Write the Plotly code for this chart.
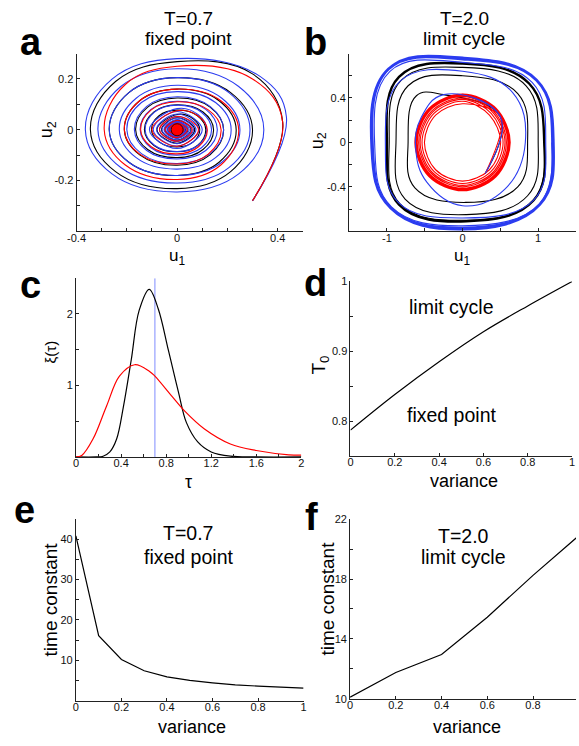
import plotly.graph_objects as go

W, H = 579, 746

# ---------------- data ----------------
# Panel a (T=0.7, fixed point): trajectories in the (u1, u2) plane
a_black_x = [0.30, 0.42, 0.30,
             0, -.245, -.345, -.245, 0, .213, .30, .213,
             0, -.192, -.27, -.192, 0, .167, .235, .167,
             0, -.149, -.21, -.149, 0, .131, .185, .131,
             0, -.117, -.165, -.117, 0, .103, .145, .103,
             0, -.092, -.13, -.092, 0, .081, .114, .081,
             0, -.072, -.102, -.072, 0, .064, .09, .064,
             0, -.08, 0, .07,
             0, -.062, 0, .055,
             0, -.049, 0, .043,
             0, -.038, 0, .034,
             0, -.03, 0, .026,
             0, -.023, 0, .02, 0]
a_black_y = [-0.28, 0.03, 0.22,
             .268, .19, 0, -.165, -.232, -.165, 0, .146,
             .205, .146, 0, -.128, -.18, -.128, 0, .114,
             .16, .114, 0, -.099, -.14, -.099, 0, .089,
             .125, .089, 0, -.078, -.11, -.078, 0, .07,
             .098, .07, 0, -.062, -.087, -.062, 0, .055,
             .077, .055, 0, -.048, -.068, -.048, 0, .043,
             .06, 0, -.053, 0,
             .047, 0, -.041, 0,
             .037, 0, -.032, 0,
             .029, 0, -.025, 0,
             .022, 0, -.02, 0,
             .017, 0, -.015, 0, 0.012]
a_blue_x = [0.30, 0.435, 0.33,
            0, -.259, -.365, -.259, 0, .245, .345, .245,
            0, -.224, -.315, -.224, 0, .206, .29, .206,
            0, -.192, -.27, -.192, 0, .178, .25, .178,
            0, -.163, -.23, -.163, 0, .153, .215, .153,
            0, -.142, -.2, -.142, 0, .131, .185, .131,
            0, -.121, -.17, -.121, 0, .114, .16, .114,
            0, -.104, -.147, -.104, 0, .097, .137, .097,
            0, -.09, -.127, -.09, 0, .084, .118, .084,
            0, -.11, 0, .1,
            0, -.095, 0, .087,
            0, -.082, 0, .075,
            0, -.07, 0, .065,
            0, -.06, 0, .056,
            0, -.052, 0, .048,
            0, -.045, 0, .041,
            0, -.039, 0, .036,
            0, -.033, 0, .03,
            0, -.028, 0, .025, 0]
a_blue_y = [-0.28, 0.05, 0.21,
            .28, .199, 0, -.174, -.245, -.174, 0, .17,
            .24, .17, 0, -.149, -.21, -.149, 0, .146,
            .205, .146, 0, -.128, -.18, -.128, 0, .124,
            .175, .124, 0, -.11, -.155, -.11, 0, .107,
            .15, .107, 0, -.094, -.133, -.094, 0, .092,
            .13, .092, 0, -.082, -.115, -.082, 0, .08,
            .112, .08, 0, -.071, -.1, -.071, 0, .069,
            .097, .069, 0, -.061, -.086, -.061, 0, .059,
            .083, 0, -.074, 0,
            .072, 0, -.064, 0,
            .062, 0, -.055, 0,
            .053, 0, -.047, 0,
            .046, 0, -.041, 0,
            .04, 0, -.035, 0,
            .034, 0, -.03, 0,
            .03, 0, -.026, 0,
            .026, 0, -.022, 0,
            .022, 0, -.019, 0, 0.016]
a_red_x = [0.30, 0.42, 0.30,
           0, -.206, -.29, -.206, 0, .174, .245, .174,
           0, -.149, -.21, -.149, 0, .124, .175, .124,
           0, -.103, -.145, -.103, 0, .085, .12, .085,
           0, -.1, 0, .085,
           0, -.07, 0, .06,
           0, -.048, 0, .041,
           0, -.033, 0, .028,
           0, -.022, 0, .019, 0]
a_red_y = [-0.28, 0.03, 0.20,
           .25, .178, 0, -.139, -.196, -.139, 0, .114,
           .16, .114, 0, -.096, -.135, -.096, 0, .078,
           .11, .078, 0, -.067, -.095, -.067, 0, .053,
           .075, 0, -.065, 0,
           .052, 0, -.045, 0,
           .036, 0, -.031, 0,
           .025, 0, -.021, 0,
           .017, 0, -.015, 0, 0.012]
a_fixed_point = [0.0, 0.0]

# Panel b (T=2.0, limit cycle)
b_red_x = [0.30, 0.50,
           0, -.356, -.504, -.356, 0, .356, .504, .356,
           0, -.378, -.536, -.378, 0, .378, .536, .378,
           0, -.396, -.561, -.396, 0, .396, .561, .396,
           0, -.409, -.580, -.409, 0, .409, .580, .409,
           0, -.423, -.599, -.423, 0, .423, .599, .423,
           0, -.432, -.611, -.432, 0, .432, .611, .432,
           0, -.441, -.624, -.441, 0, .441, .624, .441,
           0, -.445, -.630, -.445, 0, .445, .630, .445,
           0, -.445, -.630, -.445, 0, .445, .630, .445, 0]
b_red_y = [-0.28, 0.23,
           .348, .246, 0, -.246, -.348, -.246, 0, .246,
           .370, .261, 0, -.261, -.370, -.261, 0, .261,
           .387, .273, 0, -.273, -.387, -.273, 0, .273,
           .400, .282, 0, -.282, -.400, -.282, 0, .282,
           .413, .292, 0, -.292, -.413, -.292, 0, .292,
           .422, .298, 0, -.298, -.422, -.298, 0, .298,
           .431, .304, 0, -.304, -.431, -.304, 0, .304,
           .435, .307, 0, -.307, -.435, -.307, 0, .307,
           .435, .307, 0, -.307, -.435, -.307, 0, .307, .435]
b_black_x = [0.30, 0.50, -0.25, -0.61, -0.72, -0.63, 0.04, 0.73, 0.86, 0.73, 0.00,
             -0.72, -0.88, -0.76, 0.05, 0.86, 1.00, 0.84, 0.00, -0.81, -0.97, -0.83,
             0.05, 0.94, 1.08]
b_black_y = [-0.28, 0.23, 0.43, 0.42, 0.00, -0.41, -0.54, -0.40, 0.00, 0.44, 0.60,
             0.51, 0.00, -0.51, -0.65, -0.48, 0.00, 0.51, 0.675, 0.56, 0.00, -0.55,
             -0.70, -0.52, 0.00]
b_black_cyc_x = [1.08, 0.88, 0.00, -0.84, -1.00, -0.84, 0.05, 0.94, 1.08, 0.88, 0.00,
                 -0.84, -1.00, -0.84, 0.05, 0.94, 1.08]
b_black_cyc_y = [0.00, 0.53, 0.71, 0.59, 0.00, -0.56, -0.71, -0.52, 0.00, 0.53, 0.71,
                 0.59, 0.00, -0.56, -0.71, -0.52, 0.00]
b_blue_x = [0.30, 0.50, -0.25, -0.55, -0.62, -0.47, 0.00, 0.56, 0.83, 0.66, 0.00,
            -0.83, -1.02, -0.85, 0.00, 0.94, 1.10, 0.92, 0.00, -0.96, -1.16, -0.94,
            0.00, 1.02, 1.18]
b_blue_y = [-0.28, 0.23, 0.43, 0.22, -0.05, -0.36, -0.57, -0.42, 0.00, 0.45, 0.64,
            0.55, -0.04, -0.54, -0.68, -0.52, 0.00, 0.54, 0.72, 0.64, -0.05, -0.58,
            -0.75, -0.55, 0.00]
b_blue_cyc_x = [1.19, 0.98, 0.00, -0.98, -1.20, -0.95, 0.00, 1.02, 1.20, 0.98, 0.00,
                -0.98, -1.19, -0.95, 0.00, 1.02, 1.19]
b_blue_cyc_y = [0.00, 0.56, 0.75, 0.66, -0.05, -0.59, -0.77, -0.56, 0.00, 0.56, 0.76,
                0.66, -0.05, -0.59, -0.78, -0.56, 0.00]

# Panel c: xi(tau)
c_black_tau = [0.0, 0.18, 0.24, 0.30, 0.36, 0.42, 0.49, 0.56, 0.65, 0.73, 0.82, 0.91,
               0.98, 1.08, 1.20, 1.37, 1.6, 2.0]
c_black_xi = [0.0, 0.0, 0.01, 0.07, 0.25, 0.70, 1.36, 2.05, 2.345, 2.07, 1.49, 0.90,
              0.48, 0.21, 0.07, 0.01, 0.0, 0.0]
c_red_tau = [0.0, 0.05, 0.15, 0.27, 0.385, 0.52, 0.65, 0.70, 0.85, 0.965, 1.14, 1.37,
             1.6, 1.89, 2.0]
c_red_xi = [0.0, 0.02, 0.25, 0.71, 1.13, 1.29, 1.20, 1.13, 0.85, 0.64, 0.39, 0.18,
            0.09, 0.03, 0.025]
c_tau_mark = 0.7

# Panel d: boundary T0 vs variance
d_var = [0.0, 0.2, 0.4, 0.6, 0.8, 1.0]
d_T0 = [0.787, 0.838, 0.885, 0.928, 0.965, 1.0]

# Panel e: time constant, T=0.7
e_var = [0.0, 0.1, 0.2, 0.3, 0.4, 0.5, 0.6, 0.7, 0.8, 0.9, 1.0]
e_tc = [40.8, 16.1, 10.2, 7.4, 5.9, 5.0, 4.4, 3.9, 3.6, 3.3, 3.1]

# Panel f: time constant, T=2.0
f_var = [0.0, 0.2, 0.4, 0.6, 0.8, 1.0]
f_tc = [10.1, 11.75, 12.95, 15.45, 18.25, 20.9]

BLACK = "#000000"
BLUE = "#2b3cf0"
RED = "#ff0000"

fig = go.Figure()


def line(x, y, color, width, ax, shape="spline", smoothing=1.0):
    fig.add_trace(go.Scatter(
        x=x, y=y, mode="lines", xaxis="x" + ax, yaxis="y" + ax,
        line=dict(color=color, width=width, shape=shape,
                  smoothing=smoothing if shape == "spline" else None),
        hoverinfo="skip", showlegend=False))


# panel a
line(a_black_x, a_black_y, BLACK, 1.1, "", smoothing=1.15)
line(a_blue_x, a_blue_y, BLUE, 1.1, "", smoothing=1.15)
line(a_red_x, a_red_y, RED, 1.1, "", smoothing=1.15)
fig.add_trace(go.Scatter(x=[a_fixed_point[0]], y=[a_fixed_point[1]], mode="markers",
                         xaxis="x", yaxis="y",
                         marker=dict(color=RED, size=12, line=dict(color="#400000", width=1)),
                         hoverinfo="skip", showlegend=False))

# panel b
line(b_black_x, b_black_y, BLACK, 1.1, "2", smoothing=1.2)
line(b_black_cyc_x, b_black_cyc_y, BLACK, 2.4, "2", smoothing=1.2)
line(b_red_x, b_red_y, RED, 1.1, "2")
line(b_blue_x, b_blue_y, BLUE, 1.1, "2", smoothing=1.2)
line(b_blue_cyc_x, b_blue_cyc_y, BLUE, 2.8, "2", smoothing=1.2)

# panel c
line([c_tau_mark, c_tau_mark], [0, 2.5], "#7f8cff", 1.0, "3", shape="linear")
line(c_black_tau, c_black_xi, BLACK, 1.2, "3")
line(c_red_tau, c_red_xi, RED, 1.2, "3")

# panels d, e, f
line(d_var, d_T0, BLACK, 1.2, "4")
line(e_var, e_tc, BLACK, 1.2, "5", shape="linear")
line(f_var, f_tc, BLACK, 1.2, "6", shape="linear")


def px(v):
    return v / W


def py(v):
    return 1 - v / H


AX = dict(showline=True, linecolor="#222", linewidth=1, ticks="inside", ticklen=3,
          tickwidth=1, tickcolor="#222", showgrid=False, zeroline=False,
          tickfont=dict(family="Liberation Sans", size=11, color="#111"),
          fixedrange=True)


def ticks(vals, labeled):
    return dict(tickmode="array", tickvals=labeled,
                ticktext=["%g" % v for v in labeled],
                minor=dict(tickmode="array", tickvals=vals, ticks="inside", ticklen=3,
                           tickwidth=1, tickcolor="#222", showgrid=False))


XS = dict(ticklabelstandoff=-4)

layout = dict(
    width=W, height=H, margin=dict(l=0, r=0, t=0, b=0),
    paper_bgcolor="white", plot_bgcolor="white", showlegend=False,
    font=dict(family="Liberation Sans", color="#111"),
    xaxis=dict(AX, **XS, domain=[px(69), px(300)], range=[-0.4, 0.5], anchor="y",
               **ticks([-0.4, -0.3, -0.2, -0.1, 0, 0.1, 0.2, 0.3, 0.4], [-0.4, 0, 0.4])),
    yaxis=dict(AX, domain=[py(229), py(48.3)], range=[-0.4, 0.3], anchor="x",
               **ticks([-0.4, -0.3, -0.2, -0.1, 0, 0.1, 0.2, 0.3], [-0.2, 0, 0.2])),
    xaxis2=dict(AX, **XS, domain=[px(347.3), 1.0], range=[-1.5, 1.5], anchor="y2",
                **ticks([-1, -0.5, 0, 0.5, 1], [-1, 0, 1])),
    yaxis2=dict(AX, domain=[py(229), py(48.3)], range=[-0.8, 0.8], anchor="x2",
                **ticks([-0.8, -0.6, -0.4, -0.2, 0, 0.2, 0.4, 0.6, 0.8], [-0.4, 0, 0.4])),
    xaxis3=dict(AX, **XS, domain=[px(68.5), px(298.5)], range=[0, 2], anchor="y3",
                **ticks([0, 0.2, 0.4, 0.6, 0.8, 1.0, 1.2, 1.4, 1.6, 1.8, 2.0],
                        [0, 0.4, 0.8, 1.2, 1.6, 2])),
    yaxis3=dict(AX, domain=[py(458.3), py(276.7)], range=[0, 2.5], anchor="x3",
                **ticks([0, 0.5, 1, 1.5, 2, 2.5], [1, 2])),
    xaxis4=dict(AX, **XS, domain=[px(348.7), px(575)], range=[0, 1], anchor="y4",
                **ticks([0, 0.2, 0.4, 0.6, 0.8, 1.0], [0, 0.2, 0.4, 0.6, 0.8, 1])),
    yaxis4=dict(AX, domain=[py(457.3), py(280)], range=[0.75, 1.0], anchor="x4",
                **ticks([0.75, 0.8, 0.85, 0.9, 0.95, 1.0], [0.8, 0.9, 1])),
    xaxis5=dict(AX, **XS, domain=[px(68.3), px(300.8)], range=[0, 1], anchor="y5",
                **ticks([0, 0.2, 0.4, 0.6, 0.8, 1.0], [0, 0.2, 0.4, 0.6, 0.8, 1])),
    yaxis5=dict(AX, domain=[py(706), py(521.2)], range=[0, 45], anchor="x5",
                **ticks([0, 5, 10, 15, 20, 25, 30, 35, 40, 45], [10, 20, 30, 40])),
    xaxis6=dict(AX, **XS, domain=[px(348.3), 1.0], range=[0, 0.988], anchor="y6",
                **ticks([0, 0.2, 0.4, 0.6, 0.8], [0, 0.2, 0.4, 0.6, 0.8])),
    yaxis6=dict(AX, domain=[py(704), py(521.7)], range=[10, 22], anchor="x6",
                **ticks([10, 12, 14, 16, 18, 20, 22], [10, 14, 18, 22])),
)
fig.update_layout(**layout)

ann = []


def txt(x, y, s, size, bold=False, angle=0):
    ann.append(dict(x=px(x), y=py(y), xref="paper", yref="paper",
                    text=("<b>%s</b>" % s) if bold else s,
                    showarrow=False, xanchor="center", yanchor="middle",
                    textangle=angle,
                    font=dict(family="Liberation Sans", size=size, color="#000")))


# panel letters
for s, x, y in [("a", 22, 37), ("b", 313, 37), ("c", 22, 284), ("d", 313, 282),
                ("e", 16, 512), ("f", 309, 519)]:
    txt(x, y, s, 38, bold=True)

# titles and region labels
txt(183, 13.0, "T=0.7", 19)
txt(183, 33.5, "fixed point", 19)
txt(465, 13.0, "T=2.0", 19)
txt(465, 33.5, "limit cycle", 19)
txt(183, 535.5, "T=0.7", 19.5)
txt(183, 560.5, "fixed point", 19.5)
txt(464, 538.5, "T=2.0", 19.5)
txt(464, 560.5, "limit cycle", 19.5)
txt(452, 306.4, "limit cycle", 19.5)
txt(452, 415.4, "fixed point", 19.5)

# axis labels
txt(172, 255, "u<sub>1</sub>", 17)
txt(40, 126, "u<sub>2</sub>", 18, angle=-90)
txt(463, 255, "u<sub>1</sub>", 17)
txt(316, 137, "u<sub>2</sub>", 18, angle=-90)
txt(183, 484, "τ", 18)
txt(42, 352, "ξ(τ)", 15, angle=-90)
txt(318, 365, "T<sub>0</sub>", 19, angle=-90)
txt(465, 483, "variance", 18)
txt(42, 603, "time constant", 19, angle=-90)
txt(187, 733, "variance", 18)
txt(325, 602, "time constant", 19, angle=-90)
txt(468, 733, "variance", 18)

fig.update_layout(annotations=ann)
fig.write_html("out.html")
